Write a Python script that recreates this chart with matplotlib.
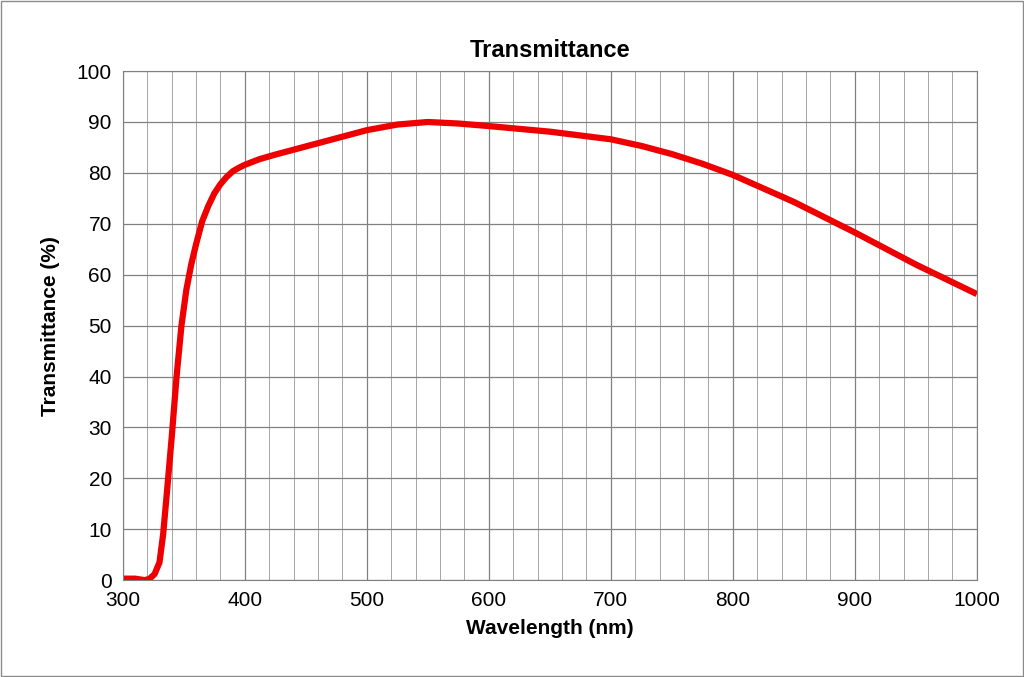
import numpy as np
import matplotlib.pyplot as plt
from matplotlib.patches import Rectangle

plt.rcParams['font.family'] = ['Liberation Sans', 'DejaVu Sans']

wavelength = [300, 310, 318, 322, 326, 330, 333, 336, 340, 344, 348, 352, 356, 360, 365,
              370, 375, 380, 385, 390, 395, 400, 412, 425, 450, 475, 500, 525, 550,
              575, 600, 650, 700, 725, 750, 775, 800, 850, 900, 950, 1000]
transmittance = [0.3, 0.3, 0.0, 0.3, 1.2, 3.5, 9, 17, 28, 40, 50, 57, 62, 66, 70.5,
                 73.5, 76, 77.8, 79.2, 80.3, 81.0, 81.6, 82.7, 83.6, 85.2, 86.8, 88.4,
                 89.5, 90.0, 89.7, 89.2, 88.1, 86.6, 85.3, 83.7, 81.8, 79.6, 74.3,
                 68.3, 62.0, 56.2]

fig = plt.figure(figsize=(10.24, 6.77), dpi=100)
fig.patches.append(Rectangle((0.001, 0.001), 0.998, 0.998, transform=fig.transFigure,
                             fill=False, edgecolor='#8c8c8c', linewidth=1))
ax = fig.add_axes([0.120, 0.143, 0.834, 0.752])

ax.set_xlim(300, 1000)
ax.set_ylim(0, 100)
ax.set_xticks(np.arange(300, 1001, 100))
ax.set_xticks(np.arange(300, 1001, 20), minor=True)
ax.set_yticks(np.arange(0, 101, 10))
ax.grid(which='major', color='#808080', linewidth=0.9)
ax.grid(which='minor', axis='x', color='#a6a6a6', linewidth=0.7)
ax.tick_params(which='both', length=0, labelsize=15, pad=8)
for s in ax.spines.values():
    s.set_color('#808080')

ax.plot(wavelength, transmittance, color='#ee0000', linewidth=4.5,
        solid_joinstyle='round', solid_capstyle='butt')

ax.set_title('Transmittance', fontsize=17, fontweight='bold', pad=10)
ax.set_xlabel('Wavelength (nm)', fontsize=15, fontweight='bold', labelpad=6)
ax.set_ylabel('Transmittance (%)', fontsize=15, fontweight='bold', labelpad=12)

fig.savefig('out.png', dpi=100)
